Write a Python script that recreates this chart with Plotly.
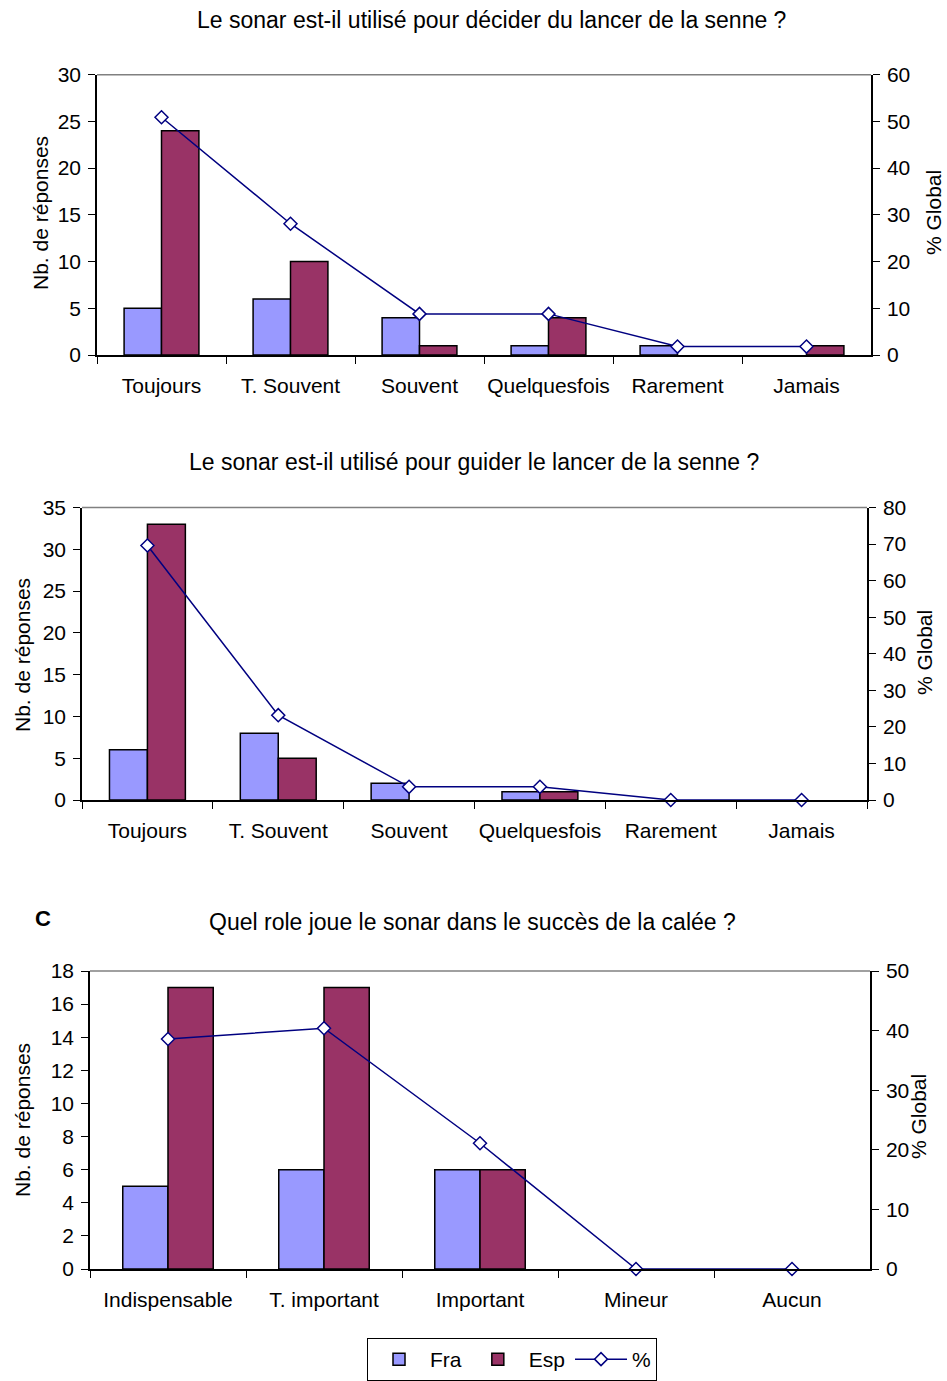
import plotly.graph_objects as go

# ---- data ----
cats1 = ["Toujours", "T. Souvent", "Souvent", "Quelquesfois", "Rarement", "Jamais"]
fra1 = [5, 6, 4, 1, 1, 0]
esp1 = [24, 10, 1, 4, 0, 1]
pct1 = [50.9, 28.1, 8.8, 8.8, 1.8, 1.8]

cats2 = ["Toujours", "T. Souvent", "Souvent", "Quelquesfois", "Rarement", "Jamais"]
fra2 = [6, 8, 2, 1, 0, 0]
esp2 = [33, 5, 0, 1, 0, 0]
pct2 = [69.6, 23.2, 3.6, 3.6, 0, 0]

cats3 = ["Indispensable", "T. important", "Important", "Mineur", "Aucun"]
fra3 = [5, 6, 6, 0, 0]
esp3 = [17, 17, 6, 0, 0]
pct3 = [38.6, 40.4, 21.1, 0, 0]

titles = [
    "Le sonar est-il utilisé pour décider du lancer de la senne ?",
    "Le sonar est-il utilisé pour guider le lancer de la senne ?",
    "Quel role joue le sonar dans le succès de la calée ?",
]

W, H = 947, 1381
FONT = "Liberation Sans, Arial, sans-serif"
FRA_C = "#9999FF"
ESP_C = "#993366"
LINE_C = "#000080"
TS = 21  # tick/label font size

def fx(px):
    return px / W

def fy(py):
    return 1 - py / H

def nz(vals):
    # zero-height bars are not drawn (as in the original spreadsheet chart)
    return [v if v else None for v in vals]

panels = [
    dict(cats=cats1, fra=fra1, esp=esp1, pct=pct1, x=(97, 871), y=(355, 74.7),
         lrange=30, ldt=5, rrange=60, rdt=10),
    dict(cats=cats2, fra=fra2, esp=esp2, pct=pct2, x=(82, 867), y=(800, 507.5),
         lrange=35, ldt=5, rrange=80, rdt=10),
    dict(cats=cats3, fra=fra3, esp=esp3, pct=pct3, x=(90, 870), y=(1269, 971),
         lrange=18, ldt=2, rrange=50, rdt=10),
]

fig = go.Figure()
layout = {}
shapes = []
tick_font = dict(family=FONT, size=TS, color="black")

for i, p in enumerate(panels):
    n = i + 1
    xa = "x" if n == 1 else f"x{n}"
    ya_l = f"y{2*n-1}" if n > 1 else "y"
    ya_r = f"y{2*n}"
    ya_l_name = "yaxis" if n == 1 else f"yaxis{2*n-1}"
    ya_r_name = f"yaxis{2*n}"
    xa_name = "xaxis" if n == 1 else f"xaxis{n}"
    show = (n == 1)

    fig.add_trace(go.Bar(x=p["cats"], y=nz(p["fra"]), name="Fra", xaxis=xa, yaxis=ya_l,
                         marker=dict(color=FRA_C, line=dict(color="black", width=1.5)),
                         showlegend=show, legendgroup="fra", offsetgroup="fra"))
    fig.add_trace(go.Bar(x=p["cats"], y=nz(p["esp"]), name="Esp", xaxis=xa, yaxis=ya_l,
                         marker=dict(color=ESP_C, line=dict(color="black", width=1.5)),
                         showlegend=show, legendgroup="esp", offsetgroup="esp"))
    fig.add_trace(go.Scatter(x=p["cats"], y=p["pct"], name="%", xaxis=xa, yaxis=ya_r,
                             mode="lines+markers", cliponaxis=False,
                             line=dict(color=LINE_C, width=1.5),
                             marker=dict(symbol="diamond", size=10, color="white",
                                         line=dict(color=LINE_C, width=1.5)),
                             showlegend=show, legendgroup="pct"))

    xd = [fx(p["x"][0]), fx(p["x"][1])]
    yd = [fy(p["y"][0]), fy(p["y"][1])]
    layout[xa_name] = dict(domain=xd, anchor=ya_l, showline=True, linecolor="black",
                           linewidth=1.5, ticks="outside", tickson="boundaries",
                           ticklen=7, tickcolor="black", showgrid=False,
                           tickfont=tick_font, automargin=False, tickangle=0,
                           ticklabelstandoff=11)
    layout[ya_l_name] = dict(domain=yd, anchor=xa, range=[0, p["lrange"]], dtick=p["ldt"],
                             showline=True, linecolor="black", linewidth=1.5,
                             ticks="outside", ticklen=7, tickcolor="black",
                             showgrid=False, zeroline=False, tickfont=tick_font,
                             automargin=False, ticklabelstandoff=3)
    layout[ya_r_name] = dict(domain=yd, anchor=xa, overlaying=ya_l, side="right",
                             range=[0, p["rrange"]], dtick=p["rdt"],
                             showline=True, linecolor="black", linewidth=1.5,
                             ticks="outside", ticklen=7, tickcolor="black",
                             showgrid=False, zeroline=False, tickfont=tick_font,
                             automargin=False, ticklabelstandoff=3)
    shapes.append(dict(type="line", xref=f"{xa} domain", yref=f"{ya_l} domain",
                       x0=0, x1=1, y0=1, y1=1, line=dict(color="#808080", width=1.5)))

annotations = []
def ann(text, x, y, size=TS, angle=0, bold=False):
    annotations.append(dict(text=f"<b>{text}</b>" if bold else text,
                            x=fx(x), y=fy(y), xref="paper", yref="paper",
                            xanchor="center", yanchor="middle", showarrow=False,
                            textangle=angle, font=dict(family=FONT, size=size, color="black")))

ann(titles[0], 491, 20, size=23)
ann(titles[1], 474, 462, size=23)
ann(titles[2], 472, 922, size=23)
ann("C", 43, 918, size=22, bold=True)

ann("Nb. de réponses", 40, 213, angle=-90)
ann("% Global", 933, 213, angle=-90)
ann("Nb. de réponses", 22, 655, angle=-90)
ann("% Global", 924, 653, angle=-90)
ann("Nb. de réponses", 22, 1120, angle=-90)
ann("% Global", 918, 1117, angle=-90)

fig.update_layout(
    **layout,
    width=W, height=H, autosize=False,
    margin=dict(l=0, r=0, t=0, b=0, pad=0),
    paper_bgcolor="white", plot_bgcolor="white",
    barmode="group", bargap=0.42, bargroupgap=0,
    shapes=shapes, annotations=annotations,
    font=dict(family=FONT, size=TS, color="black"),
    legend=dict(orientation="h", x=fx(512), y=fy(1338), xanchor="center", yanchor="top",
                bordercolor="black", borderwidth=1, bgcolor="white",
                font=dict(family=FONT, size=TS, color="black"),
                itemwidth=52, traceorder="normal", tracegroupgap=0),
)

fig.write_html("out.html")
